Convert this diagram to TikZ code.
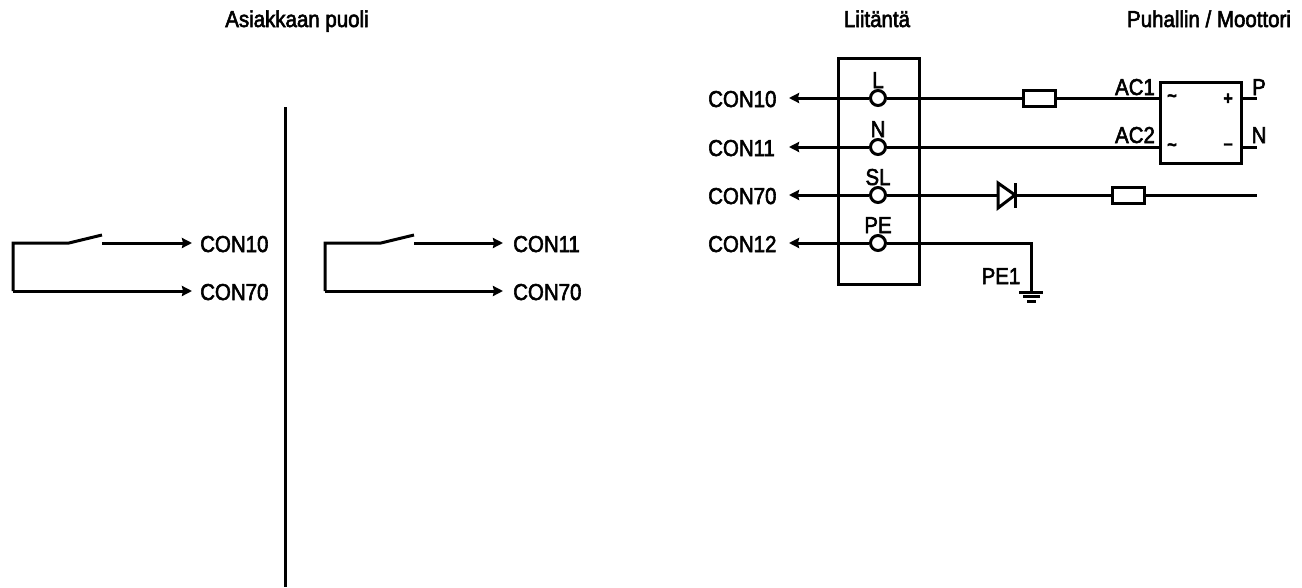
\documentclass[tikz,border=0pt]{standalone}
\usepackage{fontspec}
\setmainfont[FakeStretch=0.89,RawFeature={embolden=2.5}]{Liberation Sans}
\usetikzlibrary{arrows.meta}
\tikzset{
  x=1pt,y=-1pt,
  wire/.style={line width=3pt,line cap=butt,line join=miter},
  arr/.style={wire,-{Stealth[length=10pt,width=10pt,inset=1pt]}},
  lbl/.style={inner sep=0pt,font=\fontsize{23}{23}\selectfont},
  term/.style={circle,draw,line width=3pt,fill=white,minimum size=15pt,inner sep=0pt},
  part/.style={draw,line width=3pt,fill=white,minimum width=32pt,minimum height=15.5pt,inner sep=0pt},
  sym/.style={inner sep=0pt,font=\fontsize{18}{18}\bfseries\selectfont}
}
\begin{document}
\begin{tikzpicture}
\useasboundingbox (0,0) rectangle (1302,587);
% titles
\node[lbl,anchor=base] (t1) at (297,27) {Asiakkaan puoli};
\node[lbl,anchor=base] (t2) at (877,27) {Liitäntä};
\node[lbl,anchor=base] (t3) at (1209,27) {Puhallin / Moottori};
% divider
\coordinate (d1) at (285,107);
\coordinate (d2) at (285,587);
\draw[wire] (d1) -- (d2);
% left switch
\coordinate (a0) at (13,243);
\coordinate (a1) at (69,243);
\coordinate (a2) at (102,235);
\coordinate (a3) at (102,243);
\coordinate (a4) at (13,291);
\node[lbl,anchor=base west] (c10) at (200,252) {CON10};
\node[lbl,anchor=base west] (c70a) at (200,300) {CON70};
\draw[wire] (a2) -- (a1) -- (a0) -- (a4);
\draw[arr] (a3) -- (192,243);
\draw[arr] (a4) -- (192,291);
% second switch
\coordinate (b0) at (325,243);
\coordinate (b1) at (381,243);
\coordinate (b2) at (414,235);
\coordinate (b3) at (414,243);
\coordinate (b4) at (325,291);
\node[lbl,anchor=base west] (c11) at (513,252) {CON11};
\node[lbl,anchor=base west] (c70b) at (513,300) {CON70};
\draw[wire] (b2) -- (b1) -- (b0) -- (b4);
\draw[arr] (b3) -- (503,243);
\draw[arr] (b4) -- (503,291);
% connector box
\draw[wire] (838,58) rectangle (919,284);
% left labels
\node[lbl,anchor=base west] (r10) at (708,107) {CON10};
\node[lbl,anchor=base west] (r11) at (708,156) {CON11};
\node[lbl,anchor=base west] (r70) at (708,204) {CON70};
\node[lbl,anchor=base west] (r12) at (708,252) {CON12};
\coordinate (la) at (789,98);
\coordinate (ln) at (789,147);
\coordinate (ls) at (789,195);
\coordinate (lp) at (789,243);
% right end coordinates
\coordinate (acone) at (1160,98);
\coordinate (actwo) at (1160,147);
\coordinate (sr) at (1257,195);
\coordinate (gnd) at (1031,243);
\coordinate (gb) at (1031,292);
% terminals
\node[term] (tl) at (878,98) {};
\node[term] (tn) at (878,147) {};
\node[term] (ts) at (878,195) {};
\node[term] (tp) at (878,243) {};
\draw[arr] (tl) -- (la);
\draw[arr] (tn) -- (ln);
\draw[arr] (ts) -- (ls);
\draw[arr] (tp) -- (lp);
\draw[wire] (tl) -- (acone);
\draw[wire] (tn) -- (actwo);
\draw[wire] (ts) -- (sr);
\draw[wire] (tp) -- (gnd) -- (gb);
\node[lbl,anchor=base] (ll) at (878,88) {L};
\node[lbl,anchor=base] (ln2) at (878,137) {N};
\node[lbl,anchor=base] (ls2) at (878,185) {SL};
\node[lbl,anchor=base] (lp2) at (878,233) {PE};
% fuse and resistor
\node[part] (fuse) at (1039,98.5) {};
\node[part] (res) at (1128,195.5) {};
% diode
\draw[wire,fill=white] (998,183) -- (1015,195) -- (998,208) -- cycle;
\draw[wire] (1015,183) -- (1015,208);
% bridge
\node[draw,line width=3pt,minimum width=81pt,minimum height=81pt,inner sep=0pt,fill=white] (br) at (1200.5,123) {};
\coordinate (pp) at (1257,98);
\coordinate (pn) at (1257,147);
\draw[wire] (br.east |- pp) -- (pp);
\draw[wire] (br.east |- pn) -- (pn);
\node[sym] (s1) at (1172,98) {\textasciitilde};
\node[sym] (s2) at (1172,147) {\textasciitilde};
\node[sym] (s3) at (1228,99) {+};
\node[sym] (s4) at (1228,147) {\textminus};
\node[lbl,anchor=base] (ac1) at (1135,95) {AC1};
\node[lbl,anchor=base] (ac2) at (1135,143) {AC2};
\node[lbl,anchor=base] (pl) at (1259,95) {P};
\node[lbl,anchor=base] (nl) at (1259,143) {N};
\node[lbl,anchor=base] (pe1) at (1001,284) {PE1};
% ground
\draw[wire] (1019,292) -- (1043,292);
\draw[wire] (1023,296.5) -- (1040,296.5);
\draw[wire] (1027,301) -- (1036,301);
\end{tikzpicture}
\end{document}
